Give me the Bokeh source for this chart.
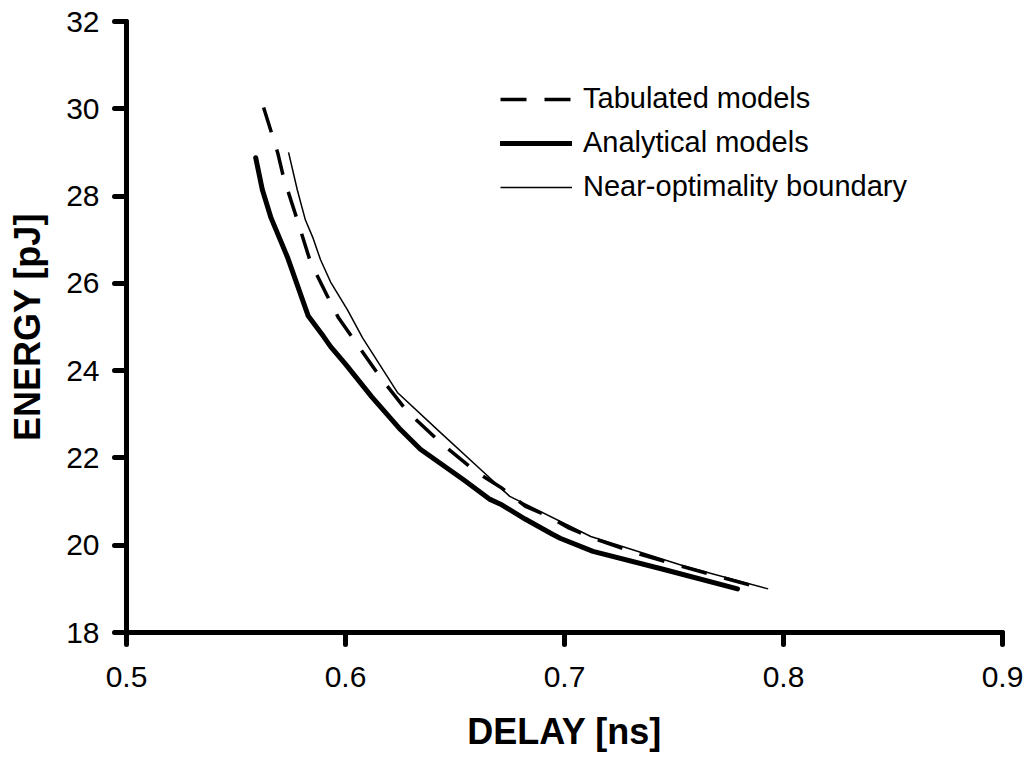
from bokeh.plotting import figure
from bokeh.models import FixedTicker, Legend, LegendItem
from bokeh.embed import file_html
from bokeh.resources import INLINE

# Data
tab_delay = [0.5626, 0.569, 0.5717, 0.578, 0.584, 0.593, 0.5968, 0.616, 0.6283, 0.6434,
             0.660, 0.6708, 0.6822, 0.6936, 0.7014, 0.7119, 0.7315, 0.7498, 0.7699, 0.7895]
tab_energy = [30.03, 29.0, 28.43, 27.45, 26.49, 25.58, 25.21, 23.84, 23.06, 22.35,
              21.67, 21.33, 20.89, 20.64, 20.41, 20.18, 19.84, 19.57, 19.29, 19.02]

ana_delay = [0.559, 0.562, 0.566, 0.5735, 0.583, 0.590, 0.5932, 0.600, 0.612, 0.6251,
             0.6342, 0.6539, 0.666, 0.6708, 0.682, 0.6945, 0.698, 0.713, 0.745, 0.779]
ana_energy = [28.88, 28.15, 27.50, 26.60, 25.25, 24.78, 24.55, 24.15, 23.40, 22.65,
              22.20, 21.50, 21.05, 20.94, 20.60, 20.25, 20.16, 19.86, 19.45, 19.0]

nob_delay = [0.574, 0.578, 0.5817, 0.585, 0.5886, 0.5932, 0.6009, 0.6078, 0.6237, 0.6434,
             0.6616, 0.675, 0.712, 0.756, 0.793]
nob_energy = [29.0, 28.14, 27.45, 27.06, 26.54, 26.03, 25.39, 24.75, 23.50, 22.58,
              21.74, 21.12, 20.2, 19.5, 19.0]

x_ticks = [0.5, 0.6, 0.7, 0.8, 0.9]
y_ticks = [18, 20, 22, 24, 26, 28, 30, 32]
series_labels = ["Tabulated models", "Analytical models", "Near-optimality boundary"]

FONT = "Liberation Sans"

p = figure(width=1028, height=759, output_backend="svg", toolbar_location=None,
           x_range=(0.5, 0.9), y_range=(18, 32),
           min_border_left=126, min_border_right=26, min_border_top=21, min_border_bottom=127)
p.outline_line_color = None
p.xgrid.grid_line_color = None
p.ygrid.grid_line_color = None
p.background_fill_color = "white"
p.border_fill_color = "white"

r_tab = p.line(tab_delay, tab_energy, line_color="black", line_width=3.5, line_dash="26 18")
r_ana = p.line(ana_delay, ana_energy, line_color="black", line_width=5,
               line_cap="round", line_join="round")
r_nob = p.line(nob_delay, nob_energy, line_color="black", line_width=1.5)

for ax in (p.xaxis[0], p.yaxis[0]):
    ax.axis_line_width = 5
    ax.axis_line_color = "black"
    ax.axis_line_cap = "round"
    ax.major_tick_line_width = 5
    ax.major_tick_line_color = "black"
    ax.major_tick_line_cap = "round"
    ax.major_tick_out = 12
    ax.major_tick_in = 0
    ax.minor_tick_out = 0
    ax.minor_tick_in = 0
    ax.major_label_text_font = FONT
    ax.major_label_text_font_size = "30px"
    ax.major_label_text_color = "black"
    ax.axis_label_text_font = FONT
    ax.axis_label_text_font_size = "36px"
    ax.axis_label_text_font_style = "bold"
    ax.axis_label_text_color = "black"

p.xaxis[0].ticker = FixedTicker(ticks=x_ticks)
p.yaxis[0].ticker = FixedTicker(ticks=y_ticks)
p.xaxis[0].major_label_overrides = {t: str(t) for t in x_ticks}
p.xaxis[0].axis_label = "DELAY [ns]"
p.yaxis[0].axis_label = "ENERGY [pJ]"
p.xaxis[0].major_label_standoff = 22
p.yaxis[0].major_label_standoff = 15
p.xaxis[0].axis_label_standoff = 21
p.yaxis[0].axis_label_standoff = 15

legend = Legend(items=[LegendItem(label=series_labels[0], renderers=[r_tab]),
                       LegendItem(label=series_labels[1], renderers=[r_ana]),
                       LegendItem(label=series_labels[2], renderers=[r_nob])],
                location=(374, 429))
legend.label_text_font = FONT
legend.label_text_font_size = "29px"
legend.label_text_color = "black"
legend.glyph_width = 72
legend.glyph_height = 30
legend.label_standoff = 11
legend.spacing = 11
legend.padding = 0
legend.margin = 0
legend.border_line_color = None
legend.background_fill_alpha = 0
p.add_layout(legend)

open("out.html", "w").write(file_html(p, INLINE))
